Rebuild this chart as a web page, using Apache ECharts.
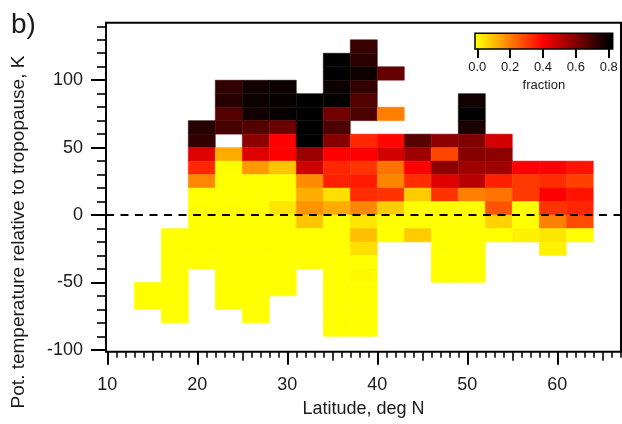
<!DOCTYPE html>
<html>
<head>
<meta charset="utf-8">
<script src="https://cdn.jsdelivr.net/npm/echarts@6/dist/echarts.min.js"></script>
<style>
  html, body { margin: 0; padding: 0; background: #fff; }
  #chart { width: 622px; height: 424px; }
</style>
</head>
<body>
<div id="chart"></div>
<script>
// ---- data -------------------------------------------------------------
// Latitude bin centres (deg N), 3 deg wide bins
const latitudes = [14.5, 17.5, 20.5, 23.5, 26.5, 29.5, 32.5, 35.5, 38.5,
                   41.5, 44.5, 47.5, 50.5, 53.5, 56.5, 59.5, 62.5];
// Potential temperature bin centres relative to the tropopause (K), 10 K bins
const thetaLevels = [125, 115, 105, 95, 85, 75, 65, 55, 45, 35, 25,
                     15, 5, -5, -15, -25, -35, -45, -55, -65, -75, -85];

const _ = null; // empty bin
// Fraction per latitude bin, listed top level (125 K) to bottom level (-85 K)
const lat14_5 = [_,_,_,_,_,_,_,_,_,_,_,_,_,_,_,_,_,_,0,0,_,_];
const lat17_5 = [_,_,_,_,_,_,_,_,_,_,_,_,_,_,0,0,0,0,0,0,0,_];
const lat20_5 = [_,_,_,_,_,_,0.74,0.72,0.45,0.34,0.19,0,0,0,0,0,0,_,_,_,_,_];
const lat23_5 = [_,_,_,0.72,0.74,0.67,0.69,_,0.13,0,0,0,0,0,0,0,0,0,0,0,_,_];
const lat26_5 = [_,_,_,0.77,0.78,0.77,0.67,0.58,0.45,0.16,0,0,0,0,0,0,0,0,0,0,0,_];
const lat29_5 = [_,_,_,0.78,0.79,0.79,0.63,0.40,0.40,0.09,0,0,0.04,0,0,0,0,0,0,_,_,_];
const lat32_5 = [_,_,_,_,0.82,0.82,0.82,0.82,0.56,0.48,0.18,0.13,0.17,0.09,0,0,0,_,_,_,_,_];
const lat35_5 = [_,0.82,0.82,0.78,0.82,0.62,0.68,0.59,0.40,0.34,0.35,0.05,0.13,0,0,0,0,0,0,0,0,0];
const lat38_5 = [0.71,0.73,0.78,0.72,0.67,0.68,_,0.34,0.40,0.32,0.36,0.33,0.19,0.04,0.10,0.05,0,0.01,0,0,0,0];
const lat41_5 = [_,_,0.64,_,_,0.20,_,0.39,0.47,0.22,0.19,0.32,0.08,0,0,_,_,_,_,_,_,_];
const lat44_5 = [_,_,_,_,_,_,_,0.66,0.55,0.40,0.33,0.08,0,0,0.08,_,_,_,_,_,_,_];
const lat47_5 = [_,_,_,_,_,_,_,0.58,0.29,0.58,0.45,0.32,0,0,0,0,0,0,_,_,_,_];
const lat50_5 = [_,_,_,_,0.77,0.82,0.76,0.60,0.59,0.55,0.51,0.20,0,0,0,0,0,0,_,_,_,_];
const lat53_5 = [_,_,_,_,_,_,_,0.47,0.58,0.55,0.35,0.22,0.27,0.07,0,_,_,_,_,_,_,_];
const lat56_5 = [_,_,_,_,_,_,_,_,_,0.40,0.31,0.31,0,0,0.02,_,_,_,_,_,_,_];
const lat59_5 = [_,_,_,_,_,_,_,_,_,0.40,0.33,0.40,0.32,0.20,0.04,0.02,_,_,_,_,_,_];
const lat62_5 = [_,_,_,_,_,_,_,_,_,0.37,0.30,0.37,0.34,0.28,0,_,_,_,_,_,_,_];

const columns = [lat14_5, lat17_5, lat20_5, lat23_5, lat26_5, lat29_5, lat32_5,
                 lat35_5, lat38_5, lat41_5, lat44_5, lat47_5, lat50_5, lat53_5,
                 lat56_5, lat59_5, lat62_5];

const LAT_BIN = 3;
const THETA_BIN = 10;

// Tick labels
const xTickLabels = [10, 20, 30, 40, 50, 60];
const yTickLabels = [-100, -50, 0, 50, 100];
const colorbarTicks = [0, 0.2, 0.4, 0.6, 0.8];

// Colour scale for the fraction
const colorRange = ['#ffff00', '#ff0000', '#000000'];
const FRACTION_MIN = 0, FRACTION_MAX = 0.8;

// ---- layout -----------------------------------------------------------
const X_MIN = 9.856, X_MAX = 67.078;
const Y_MIN = -101.4, Y_MAX = 142.66;
const CB_MIN = -0.014, CB_MAX = 0.8243;
const FONT = '"Liberation Sans", Arial, sans-serif';
const TXT = '#1a1a1a';

function range(a, b, step, skip) {
  const out = [];
  for (let v = a; v <= b + 1e-9; v += step) {
    const r = Math.round(v * 1000) / 1000;
    if (!skip || !skip(r)) out.push(r);
  }
  return out;
}
const xMajor = range(10, 60, 10);
const xMid = range(15, 65, 10);
const xMinor = range(10, 67, 1, v => v % 5 === 0);
const yMajor = range(-100, 100, 50);
const yMinor = range(-100, 140, 10, v => v % 50 === 0);

// cells: [lat, theta, fraction]
const cells = [];
columns.forEach((col, i) => {
  col.forEach((f, j) => {
    if (f !== null) cells.push([latitudes[i], thetaLevels[j], f]);
  });
});

// gradient for the colour bar, built from the same colour stops
function cbOffset(v) { return (v - CB_MIN) / (CB_MAX - CB_MIN); }
const cbStops = [{ offset: 0, color: colorRange[0] }];
colorRange.forEach((c, i) => {
  const v = FRACTION_MIN + (FRACTION_MAX - FRACTION_MIN) * i / (colorRange.length - 1);
  cbStops.push({ offset: Math.min(1, Math.max(0, cbOffset(v))), color: c });
});
cbStops.push({ offset: 1, color: colorRange[colorRange.length - 1] });

const tickStyle = (w) => ({ color: '#000', width: w });
const noLine = { show: false, onZero: false };

const chart = echarts.init(document.getElementById('chart'));
chart.setOption({
  animation: false,
  backgroundColor: '#fff',
  textStyle: { fontFamily: FONT },
  grid: [
    { left: 106, top: 22.7, width: 515, height: 329, show: true,
      borderColor: '#000', borderWidth: 2, backgroundColor: 'transparent' },
    { left: 475, top: 33.3, width: 137.7, height: 15.7, show: true,
      borderColor: '#000', borderWidth: 1.5,
      backgroundColor: new echarts.graphic.LinearGradient(0, 0, 1, 0, cbStops) }
  ],
  xAxis: [
    { type: 'value', gridIndex: 0, min: X_MIN, max: X_MAX, position: 'bottom',
      axisLine: noLine, splitLine: { show: false },
      axisTick: { show: true, customValues: xMajor, length: 13, lineStyle: tickStyle(2) },
      axisLabel: { customValues: xTickLabels, margin: 24, fontSize: 18, color: TXT, fontFamily: FONT },
      name: 'Latitude, deg N', nameLocation: 'middle', nameGap: 48,
      nameTextStyle: { fontSize: 18, color: TXT, fontFamily: FONT } },
    { type: 'value', gridIndex: 0, min: X_MIN, max: X_MAX, position: 'bottom', offset: 0,
      axisLine: noLine, splitLine: { show: false }, axisLabel: { show: false },
      axisTick: { show: true, customValues: xMid, length: 9, lineStyle: tickStyle(1.6) } },
    { type: 'value', gridIndex: 0, min: X_MIN, max: X_MAX, position: 'bottom', offset: 0,
      axisLine: noLine, splitLine: { show: false }, axisLabel: { show: false },
      axisTick: { show: true, customValues: xMinor, length: 6, lineStyle: tickStyle(1.5) } },
    { type: 'value', gridIndex: 1, min: CB_MIN, max: CB_MAX, position: 'bottom',
      axisLine: noLine, splitLine: { show: false },
      axisTick: { show: true, customValues: colorbarTicks, length: 9, lineStyle: tickStyle(2) },
      axisLabel: { customValues: colorbarTicks, margin: 12, fontSize: 13, color: TXT, fontFamily: FONT,
                   formatter: v => v.toFixed(1) },
      name: 'fraction', nameLocation: 'middle', nameGap: 30,
      nameTextStyle: { fontSize: 13, color: TXT, fontFamily: FONT } }
  ],
  yAxis: [
    { type: 'value', gridIndex: 0, min: Y_MIN, max: Y_MAX, position: 'left',
      axisLine: noLine, splitLine: { show: false },
      axisTick: { show: true, customValues: yMajor, length: 15, lineStyle: tickStyle(2) },
      axisLabel: { customValues: yTickLabels, margin: 23, fontSize: 18, color: TXT, fontFamily: FONT } },
    { type: 'value', gridIndex: 0, min: Y_MIN, max: Y_MAX, position: 'left', offset: 0,
      axisLine: noLine, splitLine: { show: false }, axisLabel: { show: false },
      axisTick: { show: true, customValues: yMinor, length: 9, lineStyle: tickStyle(1.6) } },
    { type: 'value', gridIndex: 1, min: 0, max: 1, show: false, axisLine: noLine }
  ],
  visualMap: {
    type: 'continuous', show: false, seriesIndex: 0, dimension: 2,
    min: FRACTION_MIN, max: FRACTION_MAX, inRange: { color: colorRange }
  },
  graphic: [
    { type: 'text', left: 11, top: 11,
      style: { text: 'b)', fontSize: 28, fill: TXT, fontFamily: FONT } },
    { type: 'text', x: 19, y: 232, rotation: Math.PI / 2,
      style: { text: 'Pot. temperature relative to tropopause, K', fontSize: 19,
               fill: TXT, fontFamily: FONT, align: 'center', verticalAlign: 'middle' } }
  ],
  series: [
    {
      type: 'custom', xAxisIndex: 0, yAxisIndex: 0, data: cells,
      encode: { x: 0, y: 1 }, z: 2, silent: true,
      renderItem: function (params, api) {
        const lat = api.value(0), th = api.value(1);
        const p0 = api.coord([lat - LAT_BIN / 2, th + THETA_BIN / 2]);
        const p1 = api.coord([lat + LAT_BIN / 2, th - THETA_BIN / 2]);
        const c = api.visual('color');
        return {
          type: 'rect',
          shape: { x: p0[0], y: p0[1], width: p1[0] - p0[0], height: p1[1] - p0[1] },
          style: { fill: c, stroke: c, lineWidth: 0.5 }
        };
      }
    },
    {
      type: 'line', xAxisIndex: 0, yAxisIndex: 0, z: 5, silent: true,
      data: [[X_MIN, 0], [X_MAX, 0]], symbol: 'none',
      lineStyle: { color: '#000', width: 2, type: [8, 6.5] }
    }
  ]
});
</script>
</body>
</html>
